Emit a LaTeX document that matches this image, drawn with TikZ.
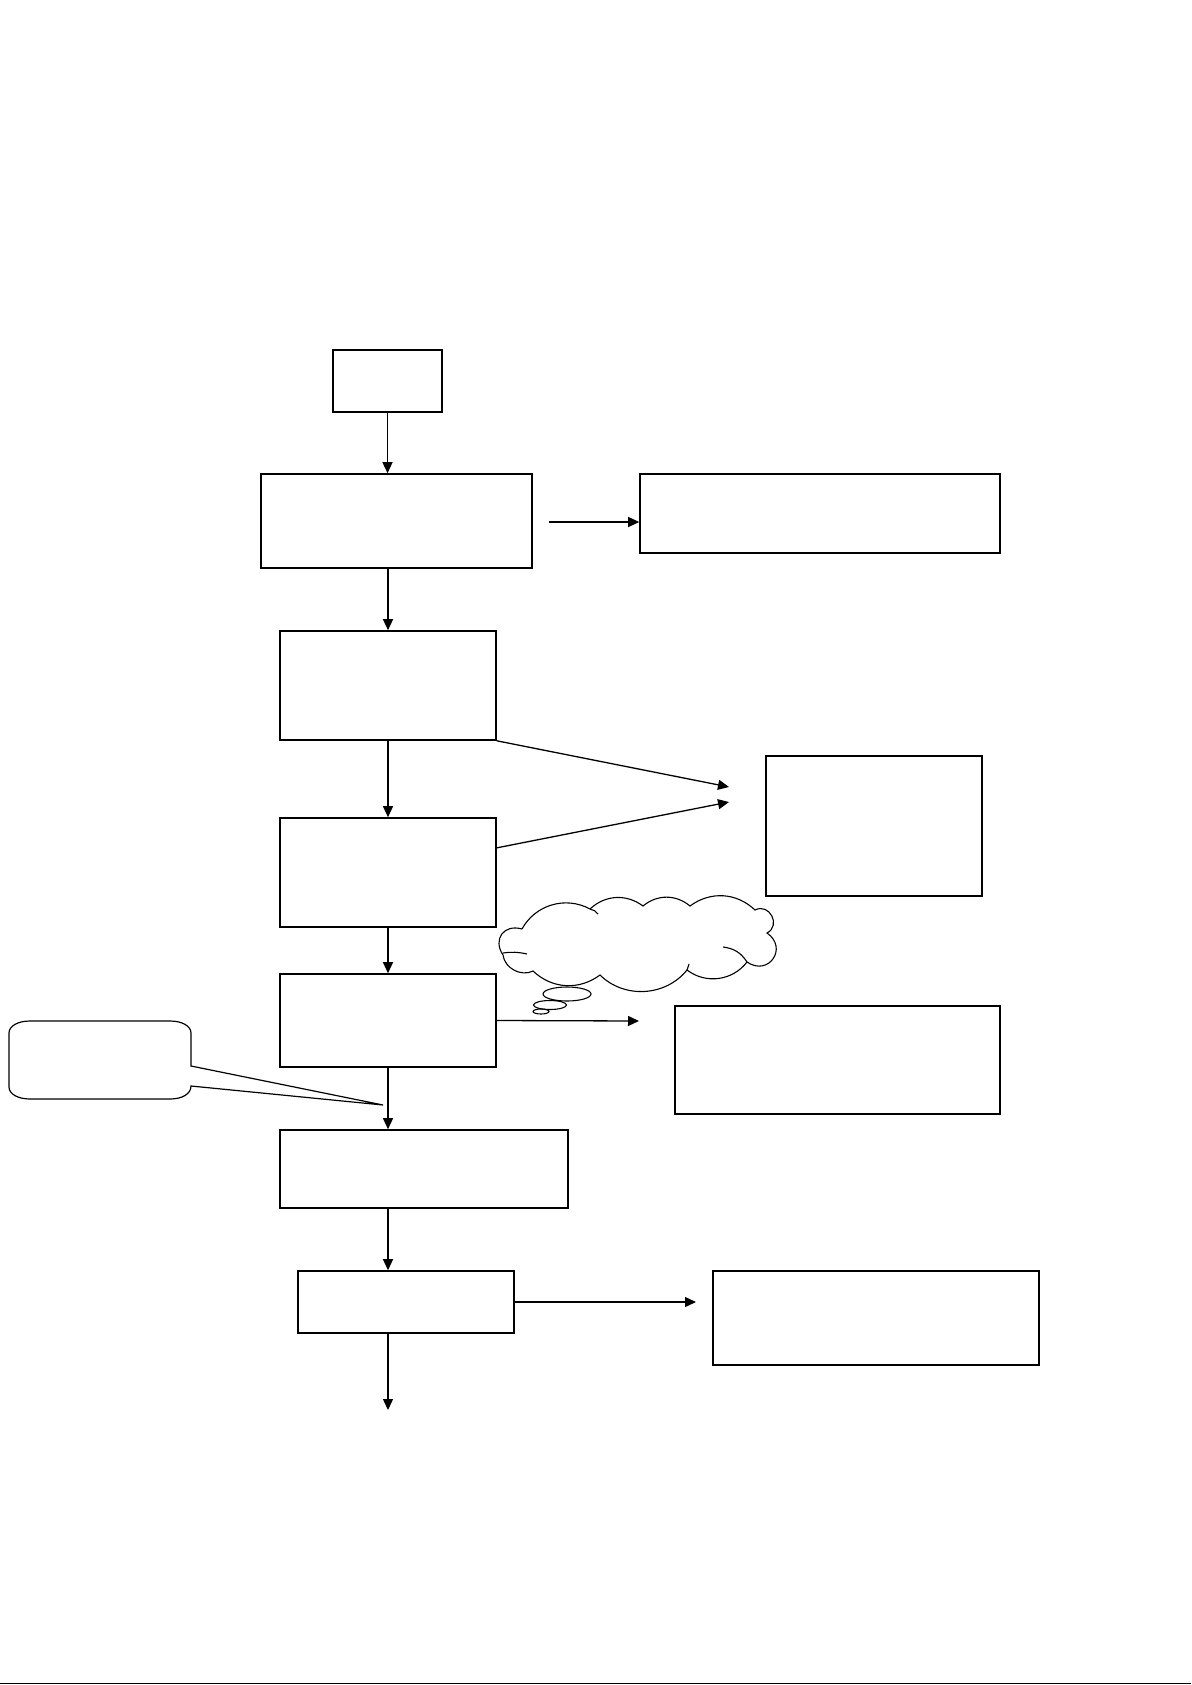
\documentclass[tikz,border=0pt]{standalone}
\usetikzlibrary{arrows.meta,shapes.geometric,calc}
\begin{document}
\begin{tikzpicture}[x=1pt,y=-1pt,
  box/.style={draw,line width=1.6pt,rectangle,inner sep=0pt},
  arr/.style={line width=1.3pt,-{Triangle[length=11pt,width=10pt]}},
  thin/.style={line width=1.2pt},
  cloudline/.style={line width=1.1pt},
  bubble/.style={draw,line width=1.1pt,ellipse,inner sep=0pt}]
\useasboundingbox (0,0) rectangle (1191,1685);
\fill[white] (0,0) rectangle (1191,1685);
% main column
\node[box,minimum width=109pt,minimum height=62pt] (b1) at (387.5,381) {};
\node[box,minimum width=271pt,minimum height=94pt] (b2) at (396.5,521) {};
\node[box,minimum width=216pt,minimum height=109pt] (b3) at (388,685.5) {};
\node[box,minimum width=216pt,minimum height=109pt] (b4) at (388,872.5) {};
\node[box,minimum width=216pt,minimum height=93pt] (b5) at (388,1020.5) {};
\node[box,minimum width=288pt,minimum height=78pt] (b6) at (424,1169) {};
\node[box,minimum width=216pt,minimum height=62pt] (b7) at (406,1302) {};
% right column
\node[box,minimum width=360pt,minimum height=79pt] (r1) at (820,513.5) {};
\node[box,minimum width=216pt,minimum height=140pt] (r2) at (874,826) {};
\node[box,minimum width=325pt,minimum height=108pt] (r3) at (837.5,1060) {};
\node[box,minimum width=326pt,minimum height=94pt] (r4) at (876,1318) {};
% coordinates
\coordinate (a1s) at (549,522);
\coordinate (t3) at (729,787);
\coordinate (s4) at (496,848);
\coordinate (t4) at (729,802);
\coordinate (t5) at (639,1021);
\coordinate (t7) at (696,1302);
\coordinate (tend) at (388,1410);
% vertical arrows
\draw[arr] (b1.south) -- (b1.south |- b2.north);
\draw[arr] (b3.north |- b2.south) -- (b3.north);
\draw[arr] (b3.south) -- (b4.north);
\draw[arr] (b4.south) -- (b5.north);
\draw[arr] (b5.south) -- (b5.south |- b6.north);
\draw[arr] (b5.south |- b6.south) -- (b5.south |- b7.north);
\draw[arr] (b5.south |- b7.south) -- (tend);
% horizontal / slanted arrows
\draw[arr] (a1s) -- (a1s -| r1.west);
\draw[arr] (b3.south east) -- (t3);
\draw[arr] (s4) -- (t4);
\draw[arr] (b5.east) -- (t5);
\draw[arr] (b7.east) -- (t7);
% cloud
\draw[cloudline] (522,929) to[bend left=45] (590,909) to[bend left=40] (643,906)
  to[bend left=40] (690,906) to[bend left=40] (755,910)
  to[bend left=90,looseness=1.6] (767,933) to[bend left=90,looseness=1.9] (747,962)
  to[bend left=45] (687,970) to[bend left=48] (600,975) to[bend left=40] (533,971)
  to[bend left=55] (503,955) to[bend left=70,looseness=1.5] (522,929);
% inner strokes of the cloud
\draw[cloudline] (590,909) to[bend left=20] (598,914);
\draw[cloudline] (503,953) to[bend left=10] (527,954);
\draw[cloudline] (723,947) to[bend left=25] (747,962);
\draw[cloudline] (687,970) to[bend left=10] (689,964);
\node[bubble,minimum width=48pt,minimum height=14pt] (bub1) at (567,994) {};
\node[bubble,minimum width=33pt,minimum height=9pt] (bub2) at (550,1005) {};
\node[bubble,minimum width=16pt,minimum height=5pt] (bub3) at (541,1011.5) {};
% callout
\draw[thin] (191,1066) -- (383,1105) -- (191,1086)
  .. controls (191,1094) and (182,1099) .. (170,1099) -- (30,1099)
  .. controls (18,1099) and (9,1094) .. (9,1087) -- (9,1033)
  .. controls (9,1026) and (18,1021) .. (30,1021) -- (170,1021)
  .. controls (182,1021) and (191,1026) .. (191,1033) -- cycle;
% bottom rule
\draw[line width=1.5pt] (0,1683.5) -- (1191,1683.5);
\end{tikzpicture}
\end{document}
